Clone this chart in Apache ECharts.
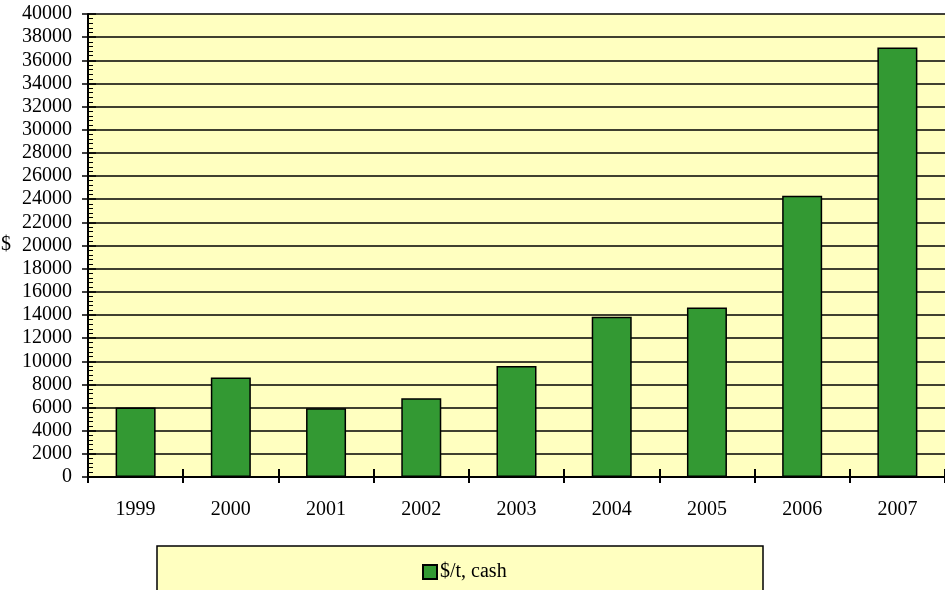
<!DOCTYPE html>
<html>
<head>
<meta charset="utf-8">
<script src="https://cdn.jsdelivr.net/npm/echarts@6/dist/echarts.min.js"></script>
<style>html,body{margin:0;padding:0;background:#fff}#c{width:945px;height:590px}</style>
</head>
<body>
<div id="c"></div>
<script>
const years = ['1999','2000','2001','2002','2003','2004','2005','2006','2007'];
const cashValues = [6000, 8600, 5950, 6800, 9600, 13850, 14650, 24300, 37100];
const seriesName = '$/t, cash';
const yMin = 0, yMax = 40000, yStep = 2000;

const chart = echarts.init(document.getElementById('c'), null, {renderer:'canvas'});
const font = 'Liberation Serif, Times New Roman, serif';
const fs = 20;
chart.setOption({
  animation: false,
  backgroundColor: '#fff',
  textStyle: {fontFamily: font},
  graphic: [
    {type:'rect', z:-10, shape:{x:88, y:14, width:857, height:463}, style:{fill:'#FFFFC0'}},
    {type:'rect', z:-10, shape:{x:157, y:546, width:606, height:60}, style:{fill:'#FFFFC0', stroke:'#000', lineWidth:1.5}},
    {type:'text', left:1, top:235, style:{text:'$', font:fs + 'px ' + font, fill:'#000'}}
  ],
  legend: {
    left: 417, top: 557, itemWidth: 14, itemHeight: 14, itemGap: 10,
    icon: 'rect',
    textStyle: {fontFamily: font, fontSize: fs, color: '#000', padding:[0,0,0,-2]},
    data: [seriesName]
  },
  grid: {left: 88, right: 0, top: 14, bottom: 113},
  xAxis: [
    {type:'category', data: years, boundaryGap: true,
     axisLine:{show:true, lineStyle:{color:'#000', width:2}},
     axisTick:{show:true, inside:false, length:6, lineStyle:{color:'#000', width:2}},
     axisLabel:{fontFamily: font, fontSize:fs, color:'#000', margin:23},
     splitLine:{show:false}},
    {type:'category', data: years, boundaryGap: true, position:'bottom',
     axisLine:{show:false},
     axisTick:{show:true, inside:true, length:8, lineStyle:{color:'#000', width:2}},
     axisLabel:{show:false}, splitLine:{show:false}}
  ],
  yAxis: [
    {type:'value', min:yMin, max:yMax, interval:yStep,
     axisLine:{show:true, lineStyle:{color:'#000', width:2}},
     axisTick:{show:true, inside:true, length:8, lineStyle:{color:'#000', width:1.5}},
     minorTick:{show:true, splitNumber:5, length:5, lineStyle:{color:'#000', width:1}},
     axisLabel:{fontFamily: font, fontSize:fs, color:'#000', margin:16, formatter: v => String(v)},
     splitLine:{show:true, lineStyle:{color:'#000', width:1.6}}},
    {type:'value', min:yMin, max:yMax, interval:yStep, position:'left', offset:0,
     axisLine:{show:false},
     axisTick:{show:true, inside:false, length:6, lineStyle:{color:'#000', width:1.5}},
     axisLabel:{show:false}, splitLine:{show:false}}
  ],
  series: [{
    name: seriesName, type:'bar', data: cashValues, barWidth: 40,
    itemStyle:{color:'#339933', borderColor:'#000', borderWidth:1.5}
  }]
});
</script>
</body>
</html>
